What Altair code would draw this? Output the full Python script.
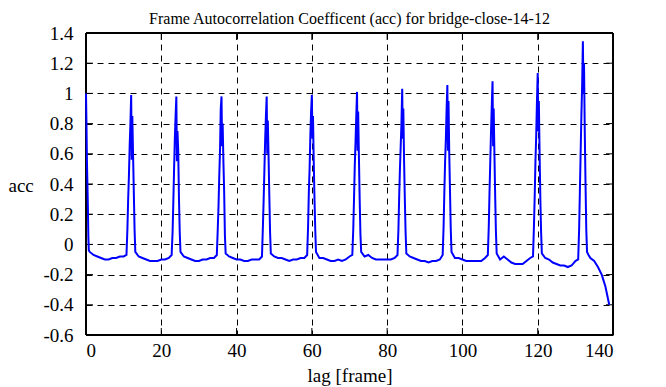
import altair as alt
import pandas as pd

# ---- data ----
title_text = ["Frame Autocorrelation Coefficent (acc) for bridge-close-14-12"]

lag0_lags = [0, 0.125, 0.25, 0.375, 0.5, 0.625, 0.75, 1.0]
lag0_vals = [1.0, 0.8, 0.55, 0.4, 0.25, 0.05, -0.04, -0.05]

peak_centers = [12, 24, 36, 48, 60, 72, 84, 96, 108, 120, 132]
peak_offsets = [-1.25, -1.0, -0.8, -0.6, -0.4, -0.2, 0, 0.15, 0.3, 0.5, 0.7, 0.9, 1.1]
peak_values = [
    [-0.07, 0.10, 0.30, 0.45, 0.65, 0.80, 0.99, 0.56, 0.85, 0.60, 0.35, 0.10, -0.05],
    [-0.07, 0.08, 0.28, 0.50, 0.70, 0.85, 0.98, 0.55, 0.75, 0.62, 0.30, 0.08, -0.05],
    [-0.07, 0.10, 0.25, 0.45, 0.62, 0.90, 0.98, 0.65, 0.80, 0.55, 0.35, 0.06, -0.06],
    [-0.08, 0.12, 0.30, 0.50, 0.70, 0.85, 0.98, 0.60, 0.82, 0.58, 0.32, 0.08, -0.06],
    [-0.07, 0.12, 0.35, 0.50, 0.72, 0.88, 0.99, 0.70, 0.85, 0.55, 0.30, 0.10, -0.05],
    [-0.07, 0.10, 0.30, 0.52, 0.68, 0.85, 1.01, 0.62, 0.88, 0.58, 0.30, 0.07, -0.05],
    [-0.07, 0.10, 0.32, 0.50, 0.65, 0.80, 1.03, 0.70, 0.90, 0.55, 0.30, 0.08, -0.06],
    [-0.07, 0.12, 0.35, 0.55, 0.70, 0.90, 1.055, 0.62, 0.95, 0.60, 0.35, 0.10, -0.05],
    [-0.07, 0.12, 0.35, 0.55, 0.75, 0.92, 1.08, 0.65, 0.90, 0.60, 0.32, 0.08, -0.06],
    [-0.08, 0.12, 0.32, 0.55, 0.72, 0.95, 1.135, 0.75, 0.95, 0.60, 0.30, 0.08, -0.06],
    [-0.10, 0.10, 0.35, 0.60, 0.85, 1.05, 1.345, 1.00, 1.20, 0.75, 0.40, 0.10, -0.05],
]

# integer lags between peaks (P+2 .. P+10 for each gap)
base_lags = [k for k in range(2, 131) if k % 12 not in (11, 0, 1)]
base_vals = [
    -0.07, -0.08, -0.09, -0.10, -0.10, -0.09, -0.09, -0.08, -0.08,
    -0.08, -0.09, -0.10, -0.11, -0.11, -0.11, -0.10, -0.10, -0.09,
    -0.08, -0.09, -0.10, -0.11, -0.11, -0.10, -0.10, -0.09, -0.09,
    -0.08, -0.09, -0.10, -0.10, -0.11, -0.11, -0.10, -0.10, -0.10,
    -0.08, -0.09, -0.09, -0.10, -0.11, -0.10, -0.10, -0.09, -0.09,
    -0.09, -0.09, -0.10, -0.11, -0.11, -0.10, -0.11, -0.10, -0.08,
    -0.08, -0.07, -0.09, -0.10, -0.10, -0.10, -0.10, -0.10, -0.09,
    -0.08, -0.09, -0.10, -0.11, -0.11, -0.12, -0.11, -0.11, -0.10,
    -0.09, -0.09, -0.10, -0.11, -0.11, -0.11, -0.11, -0.11, -0.09,
    -0.10, -0.08, -0.10, -0.12, -0.13, -0.13, -0.13, -0.11, -0.09,
    -0.09, -0.10, -0.12, -0.13, -0.14, -0.14, -0.15, -0.14, -0.11,
]

tail_lags = [133.5, 134, 135, 136, 137, 137.5, 138, 138.5, 139]
tail_vals = [-0.07, -0.09, -0.11, -0.15, -0.20, -0.24, -0.28, -0.34, -0.40]

x_ticks = [0, 20, 40, 60, 80, 100, 120, 140]
y_ticks = [-0.6, -0.4, -0.2, 0, 0.2, 0.4, 0.6, 0.8, 1, 1.2, 1.4]

# ---- assemble ----
rows = list(zip(lag0_lags, lag0_vals)) + list(zip(base_lags, base_vals)) + list(zip(tail_lags, tail_vals))
for c, vals in zip(peak_centers, peak_values):
    rows += [(c + o, v) for o, v in zip(peak_offsets, vals)]
df = pd.DataFrame(rows, columns=["lag", "acc"]).sort_values("lag")

W, H = 527, 302
FONT = "Liberation Serif"
FS = 19

xs = alt.Scale(domain=[0, 140], nice=False, zero=False)
ys = alt.Scale(domain=[-0.6, 1.4], nice=False, zero=False)

neg_expr = "datum.value < 0 ? '-' + format(-datum.value, '~g') : format(datum.value, '~g')"

x_axis = alt.Axis(
    values=x_ticks, title="lag [frame]", labelExpr=neg_expr,
    grid=True, gridColor="black", gridDash=[6, 5], gridWidth=1, gridOpacity=1,
    ticks=False, domain=False, labelFont=FONT, labelFontSize=FS, labelColor="black",
    labelPadding=6, titleFont=FONT, titleFontSize=FS, titleFontWeight="normal",
    titleColor="black", titlePadding=6)
y_axis = alt.Axis(
    values=y_ticks, title="acc", labelExpr=neg_expr,
    grid=True, gridColor="black", gridDash=[6, 5], gridWidth=1, gridOpacity=1,
    ticks=False, domain=False, labelFont=FONT, labelFontSize=FS, labelColor="black",
    labelPadding=13, titleFont=FONT, titleFontSize=FS, titleFontWeight="normal",
    titleColor="black", titleAngle=0, titleX=-78, titleY=H / 2 + 1,
    titleAlign="left", titleBaseline="middle")

line = alt.Chart(df).mark_line(color="#0000ff", strokeWidth=2).encode(
    x=alt.X("lag:Q", scale=xs, axis=x_axis),
    y=alt.Y("acc:Q", scale=ys, axis=y_axis),
    order="lag:Q",
)

ydf = pd.DataFrame({"v": y_ticks})
xdf = pd.DataFrame({"v": x_ticks})
yt_l = alt.Chart(ydf).mark_rule(color="black", strokeWidth=1).encode(
    y=alt.Y("v:Q", scale=ys, axis=y_axis), x=alt.value(0), x2=alt.value(7))
yt_r = alt.Chart(ydf).mark_rule(color="black", strokeWidth=1).encode(
    y=alt.Y("v:Q", scale=ys, axis=y_axis), x=alt.value(W - 7), x2=alt.value(W))
xt_b = alt.Chart(xdf).mark_rule(color="black", strokeWidth=1).encode(
    x=alt.X("v:Q", scale=xs, axis=x_axis), y=alt.value(H - 7), y2=alt.value(H))
xt_t = alt.Chart(xdf).mark_rule(color="black", strokeWidth=1).encode(
    x=alt.X("v:Q", scale=xs, axis=x_axis), y=alt.value(0), y2=alt.value(7))

one = pd.DataFrame({"k": [0]})
border = [
    alt.Chart(one).mark_rule(color="black", strokeWidth=2).encode(
        x=alt.value(0), x2=alt.value(W), y=alt.value(0)),
    alt.Chart(one).mark_rule(color="black", strokeWidth=2).encode(
        x=alt.value(0), x2=alt.value(W), y=alt.value(H)),
    alt.Chart(one).mark_rule(color="black", strokeWidth=2).encode(
        x=alt.value(0), y=alt.value(0), y2=alt.value(H)),
    alt.Chart(one).mark_rule(color="black", strokeWidth=2).encode(
        x=alt.value(W), y=alt.value(0), y2=alt.value(H)),
]

title = alt.Chart(pd.DataFrame({"t": title_text})).mark_text(
    font=FONT, fontSize=16, color="black", align="center", baseline="alphabetic").encode(
    text="t:N", x=alt.value(W / 2), y=alt.value(-9))

chart = alt.layer(yt_l, yt_r, xt_b, xt_t, *border, line, title).properties(
    width=W, height=H,
    background="white",
    autosize=alt.AutoSizeParams(type="none"),
    padding={"left": 78, "top": 25, "right": 45, "bottom": 52},
).configure_view(strokeWidth=0)

chart.save("out.html", embed_options={"renderer": "svg", "actions": False})
